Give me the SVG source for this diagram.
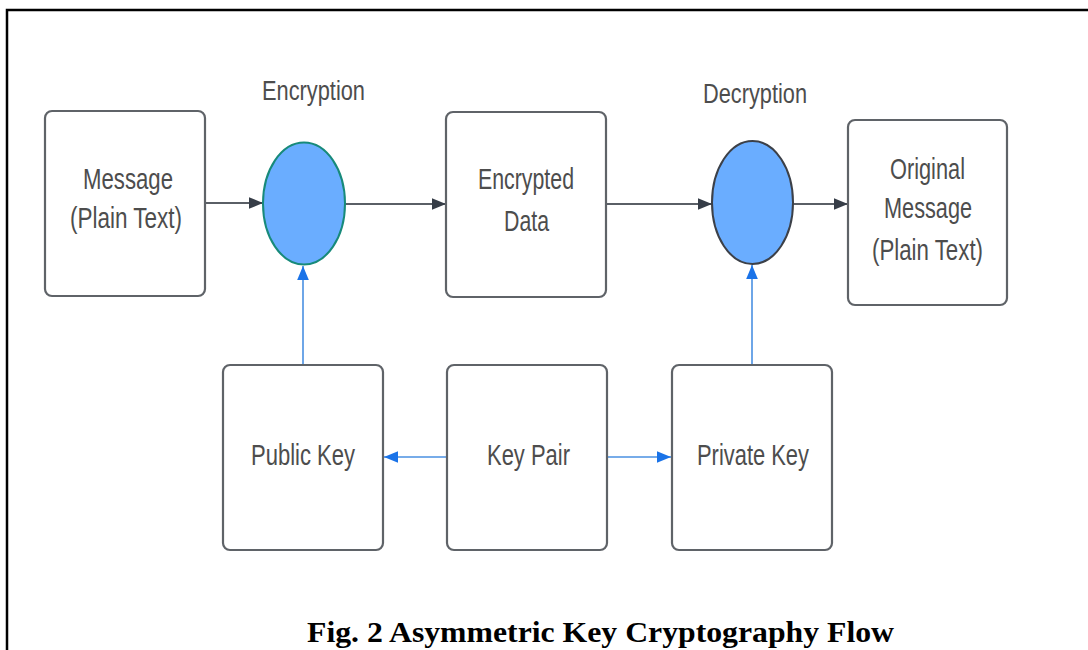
<svg xmlns="http://www.w3.org/2000/svg" width="1088" height="650" viewBox="0 0 1088 650">
<style>
.box{fill:#fff;stroke:#5f6368;stroke-width:2.2}
.lbl{font-family:"Liberation Sans",Arial,sans-serif;font-size:29px;fill:#4d4d4d;text-anchor:start}
.dk{stroke:#5a5f66;stroke-width:2;fill:none}
.bl{stroke:#4a90e2;stroke-width:1.6;fill:none}
.cap{font-family:"Liberation Serif","Times New Roman",serif;font-weight:bold;font-size:30px;fill:#000}
</style>
<defs>
<marker id="ad" viewBox="0 0 12 12" refX="12" refY="6" markerWidth="14" markerHeight="14" markerUnits="userSpaceOnUse" orient="auto"><path d="M0,1 L12,6 L0,11 Z" fill="#363d47"/></marker>
<marker id="ab" viewBox="0 0 12 12" refX="12" refY="6" markerWidth="14" markerHeight="14" markerUnits="userSpaceOnUse" orient="auto"><path d="M0,1 L12,6 L0,11 Z" fill="#1a73e8"/></marker>
</defs>
<rect width="1088" height="650" fill="#fff"/>
<path d="M7,650 V10 H1088" stroke="#000" stroke-width="2.5" fill="none"/>
<g id="connectors">
<line class="dk" x1="205" y1="203" x2="263" y2="203" marker-end="url(#ad)"/>
<line class="dk" x1="345" y1="204" x2="446" y2="204" marker-end="url(#ad)"/>
<line class="dk" x1="607" y1="204" x2="712" y2="204" marker-end="url(#ad)"/>
<line class="dk" x1="793" y1="204" x2="848" y2="204" marker-end="url(#ad)"/>
<line class="bl" x1="447" y1="457" x2="384" y2="457" marker-end="url(#ab)"/>
<line class="bl" x1="607" y1="457" x2="671" y2="457" marker-end="url(#ab)"/>
<line class="bl" x1="303" y1="365" x2="303" y2="266" marker-end="url(#ab)"/>
<line class="bl" x1="752" y1="365" x2="752" y2="265" marker-end="url(#ab)"/>
</g>
<g id="message">
<rect class="box" x="45" y="111" width="160" height="185" rx="7"/>
<text class="lbl" x="83" y="189" textLength="90" lengthAdjust="spacingAndGlyphs">Message</text>
<text class="lbl" x="70" y="228" textLength="112" lengthAdjust="spacingAndGlyphs">(Plain Text)</text>
</g>
<g id="encryption">
<ellipse cx="304" cy="203.5" rx="41" ry="61" fill="#6aadff" stroke="#178a7a" stroke-width="2"/>
<text class="lbl" x="262" y="100" textLength="103" lengthAdjust="spacingAndGlyphs" style="font-size:27px">Encryption</text>
</g>
<g id="encrypted-data">
<rect class="box" x="446" y="112" width="160" height="185" rx="7"/>
<text class="lbl" x="478" y="189" textLength="96" lengthAdjust="spacingAndGlyphs">Encrypted</text>
<text class="lbl" x="504" y="231" textLength="45" lengthAdjust="spacingAndGlyphs">Data</text>
</g>
<g id="decryption">
<ellipse cx="752.5" cy="202.5" rx="40.5" ry="61.5" fill="#6aadff" stroke="#3c4048" stroke-width="2"/>
<text class="lbl" x="703" y="103" textLength="104" lengthAdjust="spacingAndGlyphs" style="font-size:27px">Decryption</text>
</g>
<g id="original-message">
<rect class="box" x="848" y="120" width="159" height="185" rx="7"/>
<text class="lbl" x="890" y="179" textLength="75" lengthAdjust="spacingAndGlyphs">Original</text>
<text class="lbl" x="884" y="218" textLength="88" lengthAdjust="spacingAndGlyphs">Message</text>
<text class="lbl" x="872" y="260" textLength="111" lengthAdjust="spacingAndGlyphs">(Plain Text)</text>
</g>
<g id="public-key">
<rect class="box" x="223" y="365" width="160" height="185" rx="7"/>
<text class="lbl" x="251" y="465" textLength="104" lengthAdjust="spacingAndGlyphs">Public Key</text>
</g>
<g id="key-pair">
<rect class="box" x="447" y="365" width="160" height="185" rx="7"/>
<text class="lbl" x="487" y="465" textLength="83" lengthAdjust="spacingAndGlyphs">Key Pair</text>
</g>
<g id="private-key">
<rect class="box" x="672" y="365" width="160" height="185" rx="7"/>
<text class="lbl" x="697" y="465" textLength="112" lengthAdjust="spacingAndGlyphs">Private Key</text>
</g>
<text class="cap" x="307" y="642" textLength="587" lengthAdjust="spacingAndGlyphs">Fig. 2 Asymmetric Key Cryptography Flow</text>
</svg>
